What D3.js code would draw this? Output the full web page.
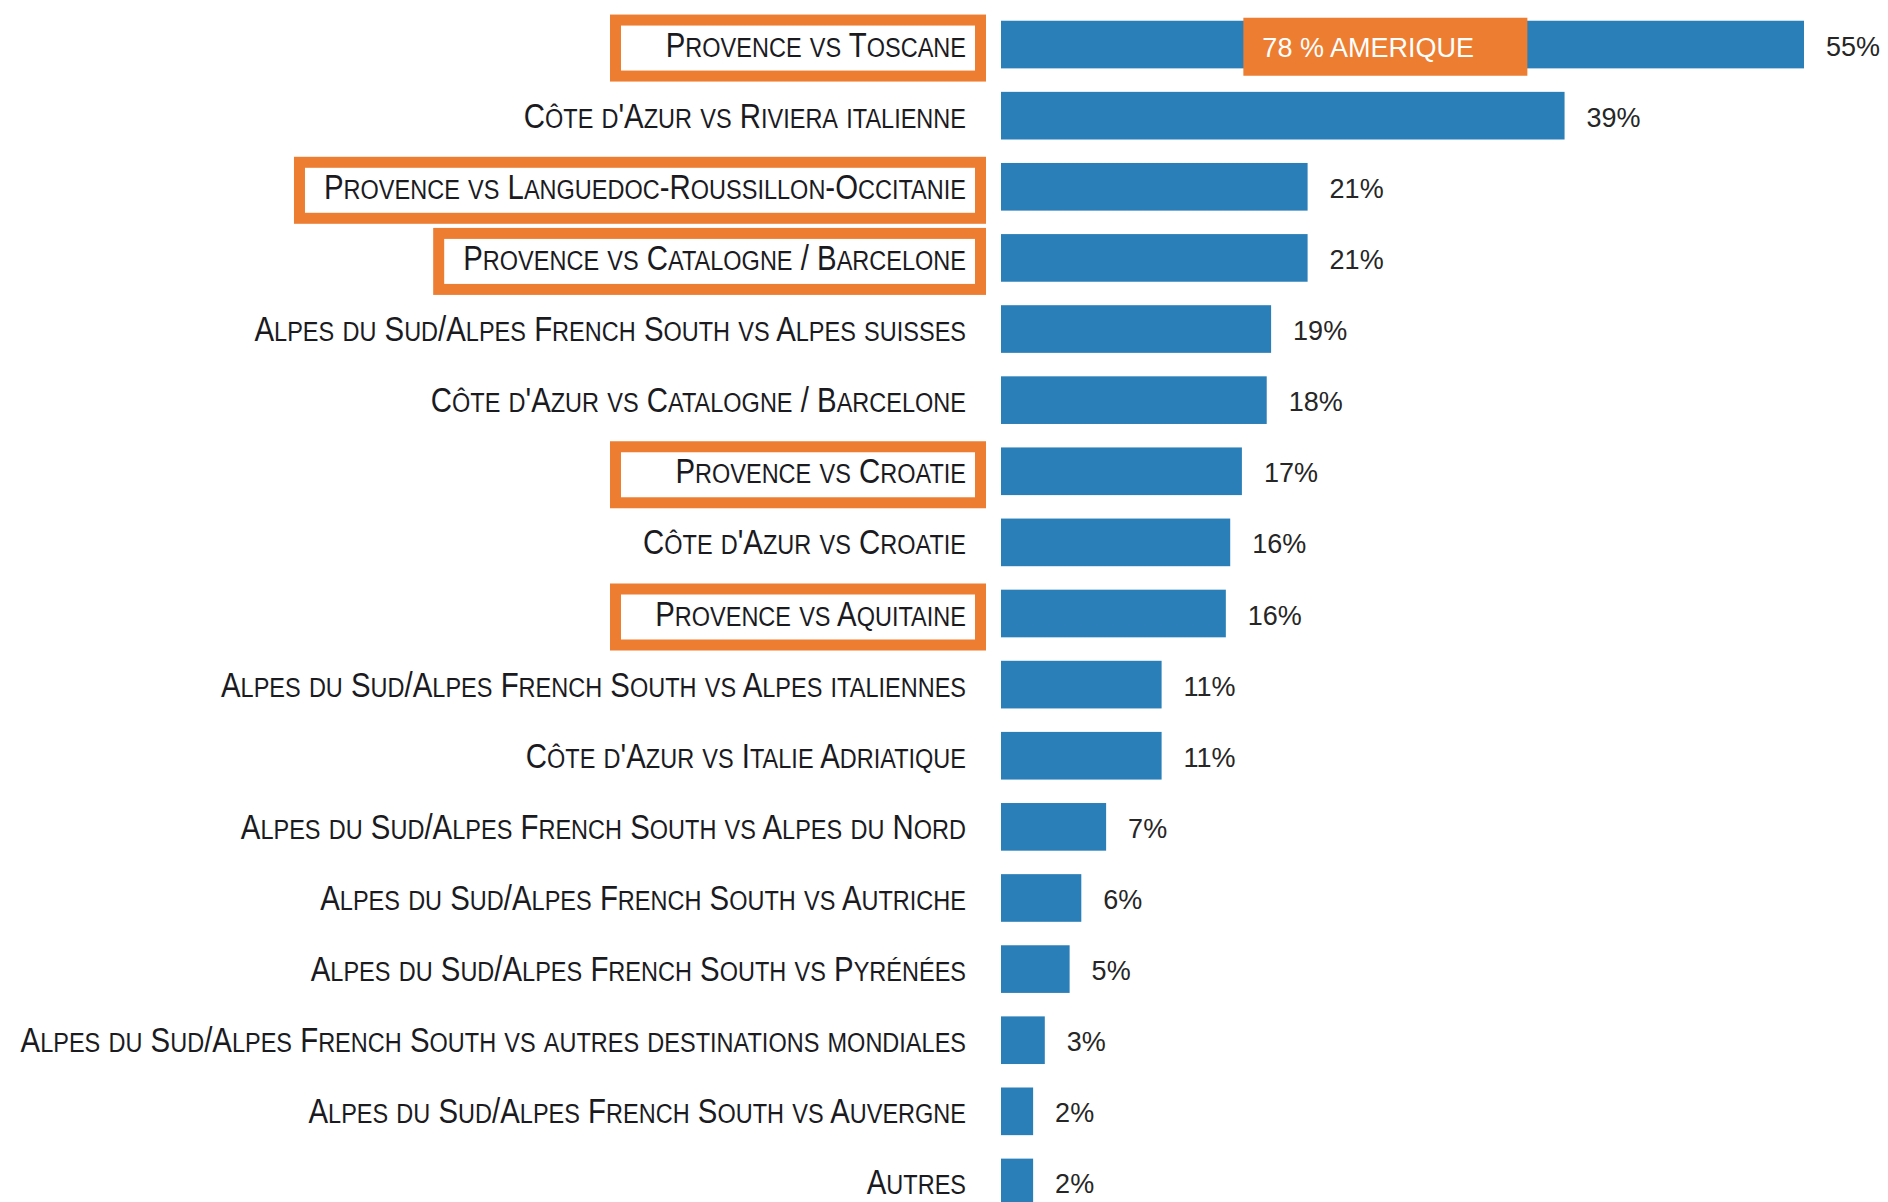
<!DOCTYPE html>
<html>
<head>
<meta charset="utf-8">
<script src="https://cdn.jsdelivr.net/npm/d3@7"></script>
<style>
  html, body { margin: 0; padding: 0; background: #ffffff; }
  svg { display: block; }
</style>
</head>
<body>
<div id="chart"></div>
<script>
/* DATA */
const categories = [
  "Provence vs Toscane",
  "Côte d'Azur vs Riviera italienne",
  "Provence vs Languedoc-Roussillon-Occitanie",
  "Provence vs Catalogne / Barcelone",
  "Alpes du Sud/Alpes French South vs Alpes suisses",
  "Côte d'Azur vs Catalogne / Barcelone",
  "Provence vs Croatie",
  "Côte d'Azur vs Croatie",
  "Provence vs Aquitaine",
  "Alpes du Sud/Alpes French South vs Alpes italiennes",
  "Côte d'Azur vs Italie Adriatique",
  "Alpes du Sud/Alpes French South vs Alpes du Nord",
  "Alpes du Sud/Alpes French South vs Autriche",
  "Alpes du Sud/Alpes French South vs Pyrénées",
  "Alpes du Sud/Alpes French South vs autres destinations mondiales",
  "Alpes du Sud/Alpes French South vs Auvergne",
  "Autres"
];
// bar lengths (labels show rounded values)
const values = [55, 38.6, 21, 21, 18.5, 18.2, 16.5, 15.7, 15.4, 11, 11, 7.2, 5.5, 4.7, 3, 2.2, 2.2];
const valueLabels = ["55%", "39%", "21%", "21%", "19%", "18%", "17%", "16%", "16%", "11%", "11%", "7%", "6%", "5%", "3%", "2%", "2%"];
const highlighted = [
  "Provence vs Toscane",
  "Provence vs Languedoc-Roussillon-Occitanie",
  "Provence vs Catalogne / Barcelone",
  "Provence vs Croatie",
  "Provence vs Aquitaine"
];
const annotationText = "78 % AMERIQUE";
const annotationAt = { category: "Provence vs Toscane", value: 16.6 };

/* LAYOUT */
const width = 1888,
  height = 1202,
  barLeft = 1001,
  labelRight = 966,
  longestLabelWidth = 946,
  labelSize = 35,
  smallCapRatio = 0.8;

const blue = "#2a7fb8",
  orange = "#ed7d31",
  textColor = "#1b1b1f";

const data = categories.map((c, i) => ({ category: c, value: values[i], label: valueLabels[i] }));

const svg = d3.select("#chart")
  .append("svg")
  .attr("width", width)
  .attr("height", height);

// SCALES
const xScale = d3.scaleLinear()
  .domain([0, 55])
  .range([barLeft, 1804]);

const yScale = d3.scaleBand()
  .domain(categories)
  .range([9, 1218])
  .paddingInner(0.33)
  .paddingOuter(0.165);

const rowCenter = d => yScale(d) + yScale.bandwidth() / 2;

// BARS
svg.selectAll("rect.bar")
  .data(data)
  .join("rect")
  .attr("class", "bar")
  .attr("x", xScale(0))
  .attr("y", d => yScale(d.category))
  .attr("width", d => xScale(d.value) - xScale(0))
  .attr("height", yScale.bandwidth())
  .attr("fill", blue);

// VALUE LABELS
svg.selectAll("text.value")
  .data(data)
  .join("text")
  .attr("class", "value")
  .attr("x", d => xScale(d.value) + 22)
  .attr("y", d => rowCenter(d.category) + 11)
  .attr("font-family", "'Liberation Sans', Arial, sans-serif")
  .attr("font-size", 27)
  .attr("fill", "#262626")
  .text(d => d.label);

// CATEGORY LABELS (hand-made small caps, condensed to fit)
// split a string into runs of capitals / lower-case letters
function smallCapRuns(str) {
  const runs = [];
  for (const ch of str) {
    const lower = ch !== ch.toUpperCase();
    const last = runs[runs.length - 1];
    if (last && last.lower === lower) last.text += ch;
    else runs.push({ text: ch, lower: lower });
  }
  return runs;
}

const labelG = svg.selectAll("g.label")
  .data(data)
  .join("g")
  .attr("class", "label");

const labels = labelG.append("text")
  .attr("text-anchor", "end")
  .attr("font-family", "'Liberation Sans Narrow', 'Liberation Sans', Arial, sans-serif")
  .attr("font-size", labelSize)
  .attr("fill", textColor);

labels.selectAll("tspan")
  .data(d => smallCapRuns(d.category))
  .join("tspan")
  .attr("font-size", r => r.lower ? labelSize * smallCapRatio : labelSize)
  .text(r => r.text.toUpperCase());

const maxW = d3.max(labels.nodes(), n => n.getComputedTextLength());
const k = longestLabelWidth / maxW;

labelG.attr("transform", d => `translate(${labelRight}, ${rowCenter(d.category) + 12}) scale(${k}, 1)`);

// HIGHLIGHT BOXES
const boxStroke = 11;
labelG.each(function(d) {
  if (!highlighted.includes(d.category)) return;
  const w = d3.select(this).select("text").node().getComputedTextLength() * k;
  const left = Math.min(610, labelRight - w - 30);
  const right = 986;
  const top = rowCenter(d.category) - 30;
  const bottom = rowCenter(d.category) + 37;
  svg.append("rect")
    .attr("class", "highlight")
    .attr("x", left + boxStroke / 2)
    .attr("y", top + boxStroke / 2)
    .attr("width", right - left - boxStroke)
    .attr("height", bottom - top - boxStroke)
    .attr("fill", "none")
    .attr("stroke", orange)
    .attr("stroke-width", boxStroke);
});

// ANNOTATION
const ay = yScale(annotationAt.category);
const annot = svg.append("g")
  .attr("transform", `translate(${xScale(annotationAt.value)}, ${ay - 3})`);

annot.append("rect")
  .attr("width", 284)
  .attr("height", 58)
  .attr("fill", orange);

annot.append("text")
  .attr("x", 19)
  .attr("y", 39)
  .attr("font-family", "'Liberation Sans', Arial, sans-serif")
  .attr("font-size", 27)
  .attr("fill", "#ffffff")
  .text(annotationText);
</script>
</body>
</html>
